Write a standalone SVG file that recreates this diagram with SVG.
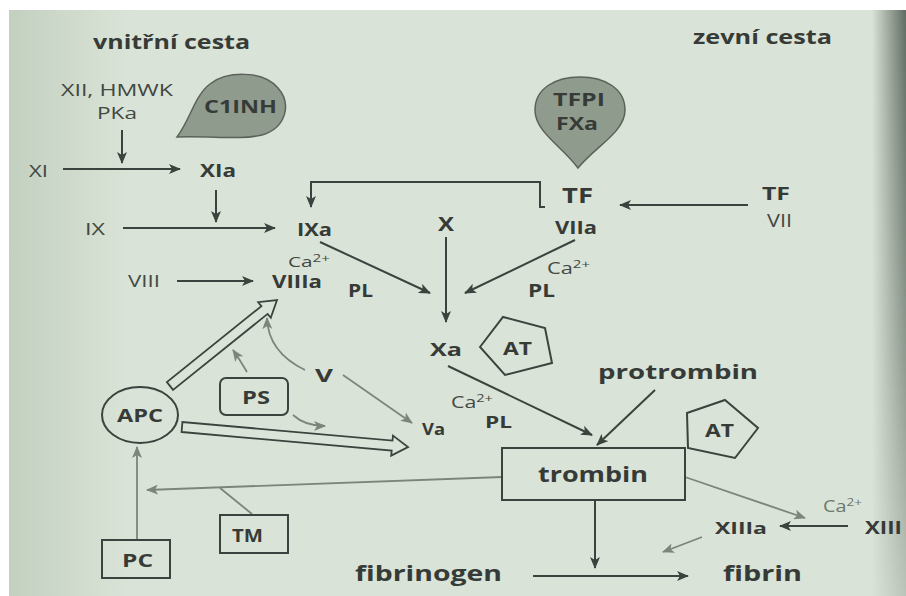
<svg xmlns="http://www.w3.org/2000/svg" width="906" height="596" viewBox="0 0 906 596">
<style>
text{font-family:"Open Sans","Noto Sans","Liberation Sans",sans-serif;fill:#363b37}
.b{font-weight:700}
.r{font-weight:400;fill:#424842}
.ln{fill:none;stroke:#3c423d;stroke-width:2}
.gl{fill:none;stroke:#7b857a;stroke-width:1.8}
.box{fill:none;stroke:#3c423d;stroke-width:2}
.blob{fill:#8f9b8d;stroke:#5a625a;stroke-width:1.5}
.hol{fill:#dbe4d8;stroke:#3c423d;stroke-width:1.8;stroke-linejoin:miter}
</style>
<defs>
<marker id="ad" viewBox="0 0 12 10" refX="11" refY="5" markerWidth="12" markerHeight="10" orient="auto" markerUnits="userSpaceOnUse"><path d="M0,0 L12,5 L0,10 L3,5 z" fill="#3c423d"/></marker>
<marker id="ag" viewBox="0 0 12 10" refX="11" refY="5" markerWidth="12" markerHeight="10" orient="auto" markerUnits="userSpaceOnUse"><path d="M0,0 L12,5 L0,10 L3,5 z" fill="#7b857a"/></marker>
<linearGradient id="edge" x1="0" y1="0" x2="1" y2="0"><stop offset="0" stop-color="#3f4b42" stop-opacity="0"/><stop offset="1" stop-color="#3f4b42" stop-opacity="0.8"/></linearGradient>
<linearGradient id="edgev" x1="0" y1="0" x2="0" y2="1"><stop offset="0" stop-color="#fff" stop-opacity="1"/><stop offset="0.6" stop-color="#fff" stop-opacity="0.6"/><stop offset="1" stop-color="#fff" stop-opacity="0.25"/></linearGradient>
<mask id="em"><rect x="860" y="0" width="46" height="596" fill="url(#edgev)"/></mask>
<linearGradient id="lside" x1="0" y1="0" x2="1" y2="0"><stop offset="0" stop-color="#b9c8b6" stop-opacity="0.7"/><stop offset="1" stop-color="#b9c8b6" stop-opacity="0"/></linearGradient>
</defs>
<rect width="906" height="596" fill="#ffffff"/>
<rect x="9" y="10" width="897" height="586" fill="#dae3d7"/>
<rect x="9" y="10" width="120" height="586" fill="url(#lside)"/>
<rect x="872" y="10" width="34" height="586" fill="url(#edge)" mask="url(#em)"/>

<g id="titles">
<text class="b" x="93" y="49" font-size="20" textLength="157" lengthAdjust="spacingAndGlyphs">vnitřní cesta</text>
<text class="b" x="693" y="44" font-size="20" textLength="139" lengthAdjust="spacingAndGlyphs">zevní cesta</text>
</g>

<g id="connectors">
<path class="ln" d="M122,130 L122,163" marker-end="url(#ad)"/>
<path class="ln" d="M63,169 L180,169" marker-end="url(#ad)"/>
<path class="ln" d="M216,190 L216,222" marker-end="url(#ad)"/>
<path class="ln" d="M123,228 L275,228" marker-end="url(#ad)"/>
<path class="ln" d="M545,207 L540,207 L540,182 L311,182 L311,207" marker-end="url(#ad)"/>
<path class="ln" d="M748,205 L620,205" marker-end="url(#ad)"/>
<path class="ln" d="M320,242 L430,293" marker-end="url(#ad)"/>
<path class="ln" d="M446,237 L446,322" marker-end="url(#ad)"/>
<path class="ln" d="M575,240 L465,293" marker-end="url(#ad)"/>
<path class="ln" d="M177,281 L253,281" marker-end="url(#ad)"/>
<path class="ln" d="M448,366 L592,435" marker-end="url(#ad)"/>
<path class="ln" d="M655,390 L597,445" marker-end="url(#ad)"/>
<path class="ln" d="M595,500 L595,568" marker-end="url(#ad)"/>
<path class="ln" d="M533,576 L688,576" marker-end="url(#ad)"/>
<path class="ln" d="M848,526 L780,526" marker-end="url(#ad)"/>
<path class="gl" d="M502,477 L147,490" marker-end="url(#ag)"/>
<path class="gl" d="M220,488 L252,514"/>
<path class="gl" d="M137,540 L137,447" marker-end="url(#ag)"/>
<path class="gl" d="M343,375 L412,423" marker-end="url(#ag)"/>
<path class="gl" d="M305,370 Q268,352 267,318" marker-end="url(#ag)"/>
<path class="gl" d="M247,372 Q240,360 233,350" marker-end="url(#ag)"/>
<path class="gl" d="M293,415 Q305,426 325,426" marker-end="url(#ag)"/>
<path class="gl" d="M685,477 L805,518" marker-end="url(#ag)"/>
<path class="gl" d="M702,537 L663,552" marker-end="url(#ag)"/>
<polygon class="hol" points="173.1,389.9 267.6,313.9 270.8,317.8 277,300 258.2,302.2 261.4,306.1 166.9,382.1"/>
<polygon class="hol" points="181.6,432 391.7,450.6 391.2,455.6 408,447 393,435.6 392.5,440.6 182.4,422"/>
</g>

<g id="n-xii"><text class="r" x="61" y="96" font-size="17" textLength="112" lengthAdjust="spacingAndGlyphs">XII, HMWK</text>
<text class="r" x="97" y="119" font-size="17" textLength="40" lengthAdjust="spacingAndGlyphs">PKa</text></g>
<g id="n-xi"><text class="r" x="29" y="177" font-size="17" textLength="19" lengthAdjust="spacingAndGlyphs">XI</text></g>
<g id="n-xia"><text class="b" x="200" y="177" font-size="18" textLength="36" lengthAdjust="spacingAndGlyphs">XIa</text></g>
<g id="n-c1inh"><path class="blob" d="M177,137 C190,120 195,95 210,84 C225,72 262,69 278,88 C292,104 286,128 262,135 C240,140 215,136 177,137 Z"/>
<text class="b" x="204" y="113" font-size="18" textLength="73" lengthAdjust="spacingAndGlyphs">C1INH</text></g>
<g id="n-ix"><text class="r" x="85" y="235" font-size="17" textLength="20" lengthAdjust="spacingAndGlyphs">IX</text></g>
<g id="n-ixa"><text class="b" x="297" y="236" font-size="18" textLength="35" lengthAdjust="spacingAndGlyphs">IXa</text></g>
<g id="n-x"><text class="b" x="438" y="231" font-size="19" textLength="16" lengthAdjust="spacingAndGlyphs">X</text></g>
<g id="n-tfviia"><text class="b" x="562" y="203" font-size="21" textLength="31" lengthAdjust="spacingAndGlyphs">TF</text>
<text class="b" x="555" y="234" font-size="17" textLength="42" lengthAdjust="spacingAndGlyphs">VIIa</text></g>
<g id="n-tfpi"><path class="blob" d="M578,168 C562,146 535,132 535,110 C535,88 556,77 580,77 C604,77 625,88 625,110 C625,132 596,146 578,168 Z"/>
<text class="b" x="553" y="106" font-size="17" textLength="52" lengthAdjust="spacingAndGlyphs">TFPI</text>
<text class="b" x="556" y="130" font-size="17" textLength="42" lengthAdjust="spacingAndGlyphs">FXa</text></g>
<g id="n-tfvii"><text class="b" x="762" y="200" font-size="18" textLength="28" lengthAdjust="spacingAndGlyphs">TF</text>
<text class="r" x="767" y="227" font-size="18" textLength="25" lengthAdjust="spacingAndGlyphs">VII</text></g>
<g id="n-cofactors">
<text class="r" x="288" y="267" font-size="15" textLength="42" lengthAdjust="spacingAndGlyphs">Ca<tspan font-size="11" dy="-5">2+</tspan></text>
<text class="b" x="348" y="297" font-size="17" textLength="25" lengthAdjust="spacingAndGlyphs">PL</text>
<text class="r" x="547" y="274" font-size="16" textLength="43" lengthAdjust="spacingAndGlyphs">Ca<tspan font-size="11" dy="-6">2+</tspan></text>
<text class="b" x="528" y="297" font-size="17" textLength="27" lengthAdjust="spacingAndGlyphs">PL</text>
<text class="r" x="451" y="408" font-size="16" textLength="42" lengthAdjust="spacingAndGlyphs">Ca<tspan font-size="11" dy="-6">2+</tspan></text>
<text class="b" x="485" y="428" font-size="16" textLength="27" lengthAdjust="spacingAndGlyphs">PL</text>
<text class="r" x="823" y="512" font-size="16" textLength="39" lengthAdjust="spacingAndGlyphs" style="fill:#6c766b">Ca<tspan font-size="11" dy="-6">2+</tspan></text>
</g>
<g id="n-viii"><text class="r" x="128" y="287" font-size="17" textLength="32" lengthAdjust="spacingAndGlyphs">VIII</text></g>
<g id="n-viiia"><text class="b" x="272" y="288" font-size="17" textLength="50" lengthAdjust="spacingAndGlyphs">VIIIa</text></g>
<g id="n-xa"><text class="b" x="430" y="356" font-size="18" textLength="32" lengthAdjust="spacingAndGlyphs">Xa</text></g>
<g id="n-at1"><polygon class="box" points="480,347 503,317 545,328 552,363 505,375"/>
<text class="b" x="503" y="355" font-size="18" textLength="29" lengthAdjust="spacingAndGlyphs">AT</text></g>
<g id="n-protrombin"><text class="b" x="598" y="379" font-size="20" textLength="160" lengthAdjust="spacingAndGlyphs">protrombin</text></g>
<g id="n-at2"><polygon class="box" points="725,400 758,428 735,458 688,448 687,413"/>
<text class="b" x="705" y="437" font-size="18" textLength="29" lengthAdjust="spacingAndGlyphs">AT</text></g>
<g id="n-trombin"><rect class="box" x="502" y="448" width="183" height="52"/>
<text class="b" x="538" y="482" font-size="22" textLength="110" lengthAdjust="spacingAndGlyphs">trombin</text></g>
<g id="n-v"><text class="b" x="315" y="382" font-size="17" textLength="18" lengthAdjust="spacingAndGlyphs">V</text></g>
<g id="n-va"><text class="b" x="422" y="435" font-size="16" textLength="23" lengthAdjust="spacingAndGlyphs">Va</text></g>
<g id="n-ps"><rect class="box" x="220" y="378" width="68" height="37" rx="6"/>
<text class="b" x="242" y="404" font-size="17" textLength="28" lengthAdjust="spacingAndGlyphs">PS</text></g>
<g id="n-apc"><ellipse class="box" cx="140" cy="415" rx="38" ry="28"/>
<text class="b" x="117" y="422" font-size="18" textLength="46" lengthAdjust="spacingAndGlyphs">APC</text></g>
<g id="n-tm"><rect class="box" x="220" y="515" width="68" height="38"/>
<text class="b" x="232" y="542" font-size="18" textLength="31" lengthAdjust="spacingAndGlyphs">TM</text></g>
<g id="n-pc"><rect class="box" x="102" y="540" width="68" height="38"/>
<text class="b" x="122" y="567" font-size="17" textLength="31" lengthAdjust="spacingAndGlyphs">PC</text></g>
<g id="n-xiiia"><text class="b" x="715" y="534" font-size="16" textLength="52" lengthAdjust="spacingAndGlyphs">XIIIa</text></g>
<g id="n-xiii"><text class="b" x="865" y="534" font-size="17" textLength="37" lengthAdjust="spacingAndGlyphs">XIII</text></g>
<g id="n-fibrinogen"><text class="b" x="355" y="581" font-size="22" textLength="147" lengthAdjust="spacingAndGlyphs">fibrinogen</text></g>
<g id="n-fibrin"><text class="b" x="723" y="581" font-size="22" textLength="79" lengthAdjust="spacingAndGlyphs">fibrin</text></g>
</svg>
